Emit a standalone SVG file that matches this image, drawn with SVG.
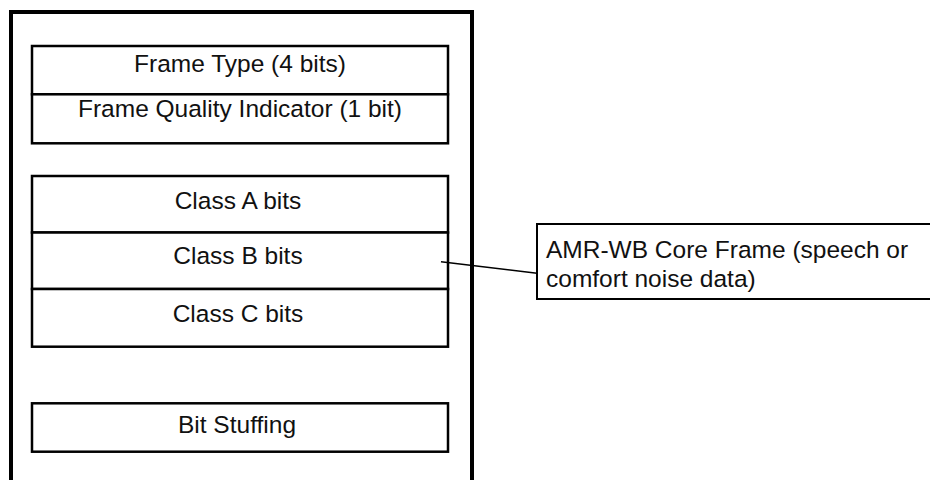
<svg xmlns="http://www.w3.org/2000/svg" width="930" height="480" viewBox="0 0 930 480">
  <style>
    .frame { fill: none; stroke: #000; stroke-width: 4; }
    .field { fill: #fff; stroke: #000; stroke-width: 2.5; }
    .note { fill: #fff; stroke: #000; stroke-width: 2; }
    .lbl { font-family: "Liberation Sans", Arial, sans-serif; font-size: 24.5px; fill: #111; }
    .mid { text-anchor: middle; }
    .leader { stroke: #000; stroke-width: 1.5; fill: none; }
  </style>
  <rect width="930" height="480" fill="#fff"/>

  <!-- outer frame container (open at the bottom edge) -->
  <g id="container">
    <rect class="frame" x="11" y="12" width="461" height="480"/>
  </g>

  <!-- header fields -->
  <g id="frame-type">
    <rect class="field" x="32" y="46" width="416" height="48.3"/>
    <text class="lbl mid" x="240" y="72">Frame Type (4 bits)</text>
  </g>
  <g id="frame-quality">
    <rect class="field" x="32" y="94.3" width="416" height="49"/>
    <text class="lbl mid" x="240" y="117">Frame Quality Indicator (1 bit)</text>
  </g>

  <!-- core frame classes -->
  <g id="class-a">
    <rect class="field" x="32" y="176" width="416" height="56.5"/>
    <text class="lbl mid" x="238" y="209">Class A bits</text>
  </g>
  <g id="class-b">
    <rect class="field" x="32" y="232.5" width="416" height="56.5"/>
    <text class="lbl mid" x="238" y="264">Class B bits</text>
  </g>
  <g id="class-c">
    <rect class="field" x="32" y="289" width="416" height="57.7"/>
    <text class="lbl mid" x="238" y="322">Class C bits</text>
  </g>

  <!-- padding -->
  <g id="bit-stuffing">
    <rect class="field" x="32" y="403.3" width="416" height="48.4"/>
    <text class="lbl mid" x="237" y="433">Bit Stuffing</text>
  </g>

  <!-- annotation -->
  <g id="core-frame-note">
    <rect class="note" x="537" y="224" width="400" height="75"/>
    <text class="lbl" x="546" y="258">AMR-WB Core Frame (speech or</text>
    <text class="lbl" x="546" y="287">comfort noise data)</text>
  </g>

  <g id="connectors">
    <line class="leader" x1="441" y1="261.7" x2="537" y2="273.3"/>
  </g>
</svg>
